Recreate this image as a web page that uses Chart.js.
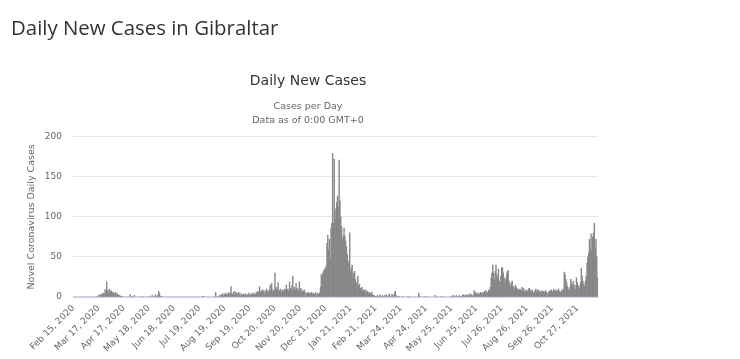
<!DOCTYPE html>
<html>
<head>
<meta charset="utf-8">
<script src="https://cdn.jsdelivr.net/npm/chart.js@4.4.1/dist/chart.umd.min.js"></script>
<style>
html,body{margin:0;padding:0;background:#fff;}
#wrap{position:relative;width:740px;height:359px;overflow:hidden;}
#pageTitle{position:absolute;left:11px;top:13px;margin:0;font-family:"Open Sans",sans-serif;font-size:20.4px;line-height:28px;font-weight:400;color:#333;white-space:nowrap;z-index:2;}
#chartBox{position:absolute;left:0;top:0;width:740px;height:359px;}
</style>
</head>
<body>
<div id="wrap">
  <h1 id="pageTitle">Daily New Cases in Gibraltar</h1>
  <div id="chartBox"><canvas id="c"></canvas></div>
</div>
<script>
// ---- Data ----
const chartTitle = "Daily New Cases";
const chartSubtitle = ["Cases per Day", "Data as of 0:00 GMT+0"];
const yAxisTitle = "Novel Coronavirus Daily Cases";
const firstDay = "2020-02-15";
const monthNames = ["Jan","Feb","Mar","Apr","May","Jun","Jul","Aug","Sep","Oct","Nov","Dec"];
const tickLabels = ["Feb 15, 2020","Mar 17, 2020","Apr 17, 2020","May 18, 2020","Jun 18, 2020",
  "Jul 19, 2020","Aug 19, 2020","Sep 19, 2020","Oct 20, 2020","Nov 20, 2020","Dec 21, 2020",
  "Jan 21, 2021","Feb 21, 2021","Mar 24, 2021","Apr 24, 2021","May 25, 2021","Jun 25, 2021",
  "Jul 26, 2021","Aug 26, 2021","Sep 26, 2021","Oct 27, 2021"];
const yTicks = [0, 50, 100, 150, 200];

// Feb 15 – Apr 14, 2020
const casesSpring2020 = [
  0,0,0,0,0,0,0,0,0,0,
  0,0,0,0,0,0,0,0,0,0,
  0,0,0,0,0,0,0,0,0,0,
  1,2,0,3,1,4,2,5,3,9,
  7,19,8,5,10,6,8,7,4,6,
  5,3,6,2,4,3,1,2,1,1
];
// Apr 15 – Jul 23, 2020
const casesSummer2020 = [
  1,0,0,0,0,0,0,0,0,0,
  3,0,1,0,0,2,0,0,0,0,
  0,0,0,0,1,0,0,0,0,0,
  0,0,0,0,1,0,0,2,0,1,
  0,3,0,1,2,7,4,1,0,1,
  0,0,0,0,0,0,0,0,0,0,
  0,0,0,0,0,0,0,0,0,0,
  0,0,0,0,0,0,0,0,0,0,
  0,0,0,0,0,0,0,0,0,0,
  0,0,0,0,0,0,0,0,0,1
];
// Jul 24 – Dec 13, 2020
const casesAutumn2020 = [
  1,0,0,0,0,0,0,0,0,0,
  0,0,0,0,0,6,1,0,0,1,
  2,0,3,2,4,1,3,5,2,4,
  3,6,2,5,13,4,3,6,2,7,
  4,5,3,6,2,5,1,3,2,4,
  3,2,4,1,3,2,5,3,2,4,
  3,5,2,4,3,6,4,7,5,13,
  6,8,5,9,7,4,8,6,10,7,
  5,9,15,8,17,6,9,7,30,10,
  12,8,18,9,7,10,6,8,9,7,
  10,8,15,9,10,7,19,11,8,14,
  26,9,12,8,17,11,10,7,19,9,
  11,6,8,7,9,6,0,5,4,6,
  3,5,4,6,3,5,4,3,6,2,
  4,5,3
];
// Dec 14, 2020 – Feb 20, 2021
const casesWinterWave = [
  5,12,28,25,30,33,34,
  36,38,67,77,59,72,48,86,92,179,
  92,172,97,110,118,126,112,171,120,100,
  88,72,76,86,76,70,63,53,45,42,
  80,32,36,40,26,30,32,22,18,15,
  26,13,16,11,10,12,7,9,8,5,
  9,5,7,4,6,3,5,6,3,2,
  2,1
];
// Feb 21 – Jun 30, 2021
const casesSpring2021 = [
  1,0,2,1,0,3,1,0,
  2,0,1,2,0,3,1,0,2,4,
  1,0,3,2,0,5,7,2,1,0,
  0,1,0,0,0,1,0,0,0,0,
  0,0,1,0,0,0,0,0,0,0,
  0,0,0,0,0,5,1,0,0,0,
  0,0,0,1,0,0,0,0,0,0,
  0,0,0,0,0,2,0,0,0,0,
  0,0,0,1,0,0,0,0,0,0,
  0,0,0,0,0,1,0,2,1,0,
  1,2,0,1,0,2,1,0,1,2,
  3,1,2,3,0,2,3,1,4,2,
  3,1,2,8,3,6,4,2,5,3,
  4,6
];
// Jul 1 – Oct 6, 2021
const casesSummer2021 = [
  5,3,6,4,7,5,8,6,
  5,9,7,12,24,30,40,30,22,32,
  40,28,24,35,20,18,26,37,36,30,
  24,17,22,28,32,33,20,16,13,18,
  20,12,13,10,15,12,11,9,8,10,
  9,7,12,8,11,6,7,9,8,6,
  10,11,7,9,7,8,5,6,8,10,
  6,9,7,8,5,7,6,8,6,7,
  5,8,6,0,5,7,6,8,9,7,
  6,10,8,7,9,6,8,10,7,5
];
// Oct 7 – Nov 21, 2021
const casesAutumn2021 = [
  7,9,6,10,31,28,22,18,13,10,
  8,12,22,17,15,20,11,15,9,24,
  18,13,14,10,18,36,26,20,16,13,
  20,26,42,50,55,72,60,79,57,75,
  80,92,60,72,50,24
];

const dailyCases = [].concat(casesSpring2020, casesSummer2020, casesAutumn2020,
  casesWinterWave, casesSpring2021, casesSummer2021, casesAutumn2021);

const start = new Date(firstDay + "T00:00:00Z");
const categories = dailyCases.map((_, i) => {
  const d = new Date(start.getTime() + i * 86400000);
  return monthNames[d.getUTCMonth()] + " " + d.getUTCDate() + ", " + d.getUTCFullYear();
});
const tickSet = new Set(tickLabels);

const font = "'DejaVu Sans', Verdana, sans-serif";

new Chart(document.getElementById("c"), {
  type: "bar",
  data: {
    labels: categories,
    datasets: [{
      label: "Daily Cases",
      data: dailyCases,
      backgroundColor: "#878787",
      borderWidth: 0,
      categoryPercentage: 1.0,
      barPercentage: 1.0,
      inflateAmount: 0.3
    }]
  },
  options: {
    responsive: true,
    maintainAspectRatio: false,
    animation: false,
    events: [],
    layout: { padding: { left: 0, right: 124, top: 0, bottom: 0 } },
    plugins: {
      legend: { display: false },
      tooltip: { enabled: false },
      title: {
        display: true,
        text: chartTitle,
        color: "#333333",
        font: { family: font, size: 14, weight: "normal", lineHeight: 1.2 },
        padding: { top: 73, bottom: 0 }
      },
      subtitle: {
        display: true,
        text: chartSubtitle,
        color: "#666666",
        font: { family: font, size: 9.5, weight: "normal", lineHeight: 1.42 },
        padding: { top: 10, bottom: 10 }
      }
    },
    scales: {
      x: {
        type: "category",
        offset: true,
        grid: { display: false, drawTicks: false },
        border: { display: true, color: "#ccd6eb", width: 1 },
        ticks: {
          autoSkip: false,
          minRotation: 45,
          maxRotation: 45,
          padding: 6,
          color: "#666666",
          font: { family: font, size: 9 },
          callback: function(value, index) {
            const lab = categories[index];
            return tickSet.has(lab) ? lab : null;
          }
        },
        afterFit: function(s) { s.height = 62; }
      },
      y: {
        type: "linear",
        position: "left",
        min: 0,
        max: 200,
        afterBuildTicks: function(s) { s.ticks = yTicks.map(v => ({ value: v })); },
        grid: { color: "#e6e6e6", drawTicks: false, lineWidth: 1 },
        border: { display: false },
        ticks: {
          padding: 11,
          color: "#666666",
          font: { family: font, size: 9 }
        },
        title: {
          display: true,
          text: yAxisTitle,
          color: "#666666",
          font: { family: font, size: 9.5, weight: "normal" },
          padding: { top: 26, bottom: 0 }
        },
        afterFit: function(s) { s.width = 73; }
      },
      yRight: {
        type: "linear",
        position: "right",
        display: true,
        grid: { display: false, drawTicks: false },
        border: { display: false },
        ticks: { display: false },
        afterFit: function(s) { s.width = 18; }
      }
    }
  }
});
</script>
</body>
</html>
